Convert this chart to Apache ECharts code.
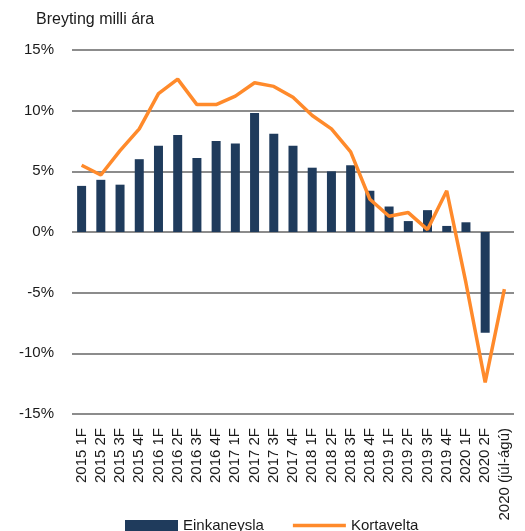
<!DOCTYPE html>
<html>
<head>
<meta charset="utf-8">
<script src="https://cdn.jsdelivr.net/npm/echarts@6/dist/echarts.min.js"></script>
<style>html,body{margin:0;padding:0;background:#fff}#c{width:525px;height:531px}</style>
</head>
<body>
<div id="c"></div>
<script>
const categories = ['2015 1F','2015 2F','2015 3F','2015 4F','2016 1F','2016 2F','2016 3F','2016 4F','2017 1F','2017 2F','2017 3F','2017 4F','2018 1F','2018 2F','2018 3F','2018 4F','2019 1F','2019 2F','2019 3F','2019 4F','2020 1F','2020 2F','2020 (júl-ágú)'];
const einkaneysla = [3.8,4.3,3.9,6.0,7.1,8.0,6.1,7.5,7.3,9.8,8.1,7.1,5.3,5.0,5.5,3.4,2.1,0.9,1.8,0.5,0.8,-8.3,null];
const kortavelta = [5.5,4.7,6.7,8.5,11.4,12.6,10.5,10.5,11.2,12.3,12.0,11.1,9.6,8.5,6.6,2.7,1.3,1.6,0.2,3.4,-4.2,-12.4,-4.7];
const yTicks = {min:-15, max:15, interval:5};

const FONT = 'Liberation Sans';
const chart = echarts.init(document.getElementById('c'));
chart.setOption({
  animation: false,
  textStyle: {fontFamily: FONT},
  title: {text: 'Breyting milli ára', left: 31, top: 7,
    textStyle: {fontFamily: FONT, fontSize: 16, fontWeight: 'normal', color: '#1a1a1a'}},
  grid: {left: 72, right: 11, top: 50, bottom: 117, containLabel: false},
  legend: {
    bottom: -7, left: 120, itemGap: 29, itemWidth: 53, itemHeight: 11,
    textStyle: {fontFamily: FONT, fontSize: 15, color: '#1a1a1a'},
    data: [
      {name: 'Einkaneysla', icon: 'rect'},
      {name: 'Kortavelta', icon: 'path://M0,0H53V3.5H0Z', itemStyle: {color: '#ff8a2b'}}
    ]
  },
  xAxis: {
    type: 'category', data: categories, boundaryGap: true,
    axisLine: {show: false}, axisTick: {show: false},
    axisLabel: {rotate: 90, interval: 0, margin: 14, fontSize: 15, color: '#1a1a1a', fontFamily: FONT}
  },
  yAxis: {
    type: 'value', min: yTicks.min, max: yTicks.max, interval: yTicks.interval,
    axisLine: {show: false}, axisTick: {show: false},
    axisLabel: {formatter: v => v + '%', fontSize: 15, color: '#1a1a1a', margin: 18, fontFamily: FONT},
    splitLine: {lineStyle: {color: '#8c8c8c', width: 2}}
  },
  series: [
    {name: 'Einkaneysla', type: 'bar', data: einkaneysla, barWidth: 9,
      itemStyle: {color: '#1f3b5c'}},
    {name: 'Kortavelta', type: 'line', data: kortavelta, showSymbol: false, symbol: 'none',
      lineStyle: {color: '#ff8a2b', width: 3.5}, itemStyle: {color: '#ff8a2b'}}
  ]
});
</script>
</body>
</html>
